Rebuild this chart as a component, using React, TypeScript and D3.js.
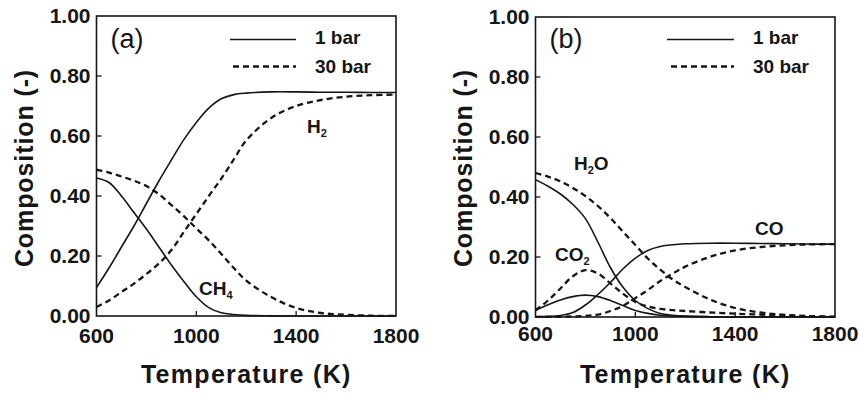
import React from "react";
import * as d3 from "d3";

// Temperatures (K) at which the curves were read
const temps = [600, 650, 700, 750, 800, 850, 900, 950, 1000, 1050, 1100, 1150, 1200, 1300, 1400, 1500, 1600, 1700, 1800];

// Panel (a)
const aH2_1bar = [0.095, 0.16, 0.23, 0.30, 0.375, 0.45, 0.52, 0.588, 0.645, 0.693, 0.724, 0.738, 0.743, 0.747, 0.747, 0.746, 0.746, 0.745, 0.745];
const aH2_30bar = [0.03, 0.052, 0.08, 0.108, 0.14, 0.175, 0.22, 0.28, 0.34, 0.40, 0.458, 0.522, 0.585, 0.66, 0.70, 0.72, 0.731, 0.736, 0.738];
const aCH4_1bar = [0.46, 0.445, 0.40, 0.345, 0.29, 0.23, 0.17, 0.115, 0.064, 0.028, 0.011, 0.005, 0.002, 0.0005, 0, 0, 0, 0, 0];
const aCH4_30bar = [0.488, 0.478, 0.465, 0.451, 0.433, 0.406, 0.37, 0.333, 0.292, 0.252, 0.207, 0.16, 0.118, 0.063, 0.027, 0.01, 0.004, 0.001, 0.0];

// Panel (b)
const bH2O_1bar = [0.458, 0.436, 0.41, 0.375, 0.328, 0.25, 0.165, 0.1, 0.055, 0.028, 0.012, 0.006, 0.003, 0.001, 0, 0, 0, 0, 0];
const bH2O_30bar = [0.48, 0.468, 0.452, 0.43, 0.403, 0.37, 0.33, 0.285, 0.24, 0.195, 0.158, 0.125, 0.1, 0.058, 0.03, 0.015, 0.007, 0.003, 0.001];
const bCO_1bar = [0.001, 0.002, 0.005, 0.015, 0.04, 0.075, 0.115, 0.16, 0.196, 0.222, 0.235, 0.241, 0.244, 0.246, 0.246, 0.245, 0.244, 0.243, 0.243];
const bCO_30bar = [0.0, 0.0005, 0.001, 0.002, 0.004, 0.008, 0.02, 0.037, 0.063, 0.09, 0.12, 0.145, 0.168, 0.201, 0.222, 0.233, 0.239, 0.242, 0.243];
const bCO2_1bar = [0.022, 0.041, 0.057, 0.068, 0.073, 0.068, 0.055, 0.038, 0.022, 0.012, 0.006, 0.003, 0.002, 0.001, 0, 0, 0, 0, 0];
const bCO2_30bar = [0.022, 0.055, 0.095, 0.136, 0.156, 0.145, 0.112, 0.078, 0.05, 0.035, 0.027, 0.023, 0.02, 0.015, 0.011, 0.008, 0.005, 0.002, 0.0];

const xTicks = [600, 1000, 1400, 1800];
const yTicks = [0, 0.2, 0.4, 0.6, 0.8, 1.0];
const legendLabels = ["1 bar", "30 bar"];

const INK = "#161616";
const FONT = "'Liberation Sans', Arial, Helvetica, sans-serif";

type Label = { main: string; sub?: string; tail?: string; x: number; y: number };

type PanelProps = {
  x0: number; x1: number; y0: number; y1: number;
  tag: string;
  solid: number[][];
  dashed: number[][];
  labels: Label[];
  xLabelY: number;
  legendSolid: [number, number];
  legendDashed: [number, number];
  legendTextX: number;
  ylabX: number;
};

function Panel(p: PanelProps) {
  const x = d3.scaleLinear().domain([600, 1800]).range([p.x0, p.x1]);
  const y = d3.scaleLinear().domain([0, 1]).range([p.y1, p.y0]);
  const line = d3
    .line<[number, number]>()
    .x((d) => x(d[0]))
    .y((d) => y(Math.max(0, d[1])))
    .curve(d3.curveCatmullRom.alpha(0.5));
  const mk = (vals: number[]) => line(temps.map((t, i) => [t, vals[i]] as [number, number])) || "";
  const cx = (p.x0 + p.x1) / 2;
  return (
    <g>
      <defs>
        <clipPath id={"clip" + p.tag}>
          <rect x={p.x0} y={p.y0} width={p.x1 - p.x0} height={p.y1 - p.y0 + 1} />
        </clipPath>
      </defs>
      <g clipPath={`url(#clip${p.tag})`}>
        {p.solid.map((s, i) => (
          <path key={"s" + i} d={mk(s)} fill="none" stroke={INK} strokeWidth={1.6} />
        ))}
        {p.dashed.map((s, i) => (
          <path key={"d" + i} d={mk(s)} fill="none" stroke={INK} strokeWidth={2.3} strokeDasharray="6,4" />
        ))}
      </g>
      {/* frame */}
      <rect x={p.x0} y={p.y0} width={p.x1 - p.x0} height={p.y1 - p.y0} fill="none" stroke={INK} strokeWidth={1.6} />
      {/* ticks */}
      {yTicks.filter((t) => t > 0 && t < 1).map((t) => (
        <line key={"yt" + t} x1={p.x0} x2={p.x0 + 5} y1={y(t)} y2={y(t)} stroke={INK} strokeWidth={1.3} />
      ))}
      {xTicks.filter((t) => t > 600 && t < 1800).map((t) => (
        <line key={"xt" + t} x1={x(t)} x2={x(t)} y1={p.y1} y2={p.y1 - 5} stroke={INK} strokeWidth={1.3} />
      ))}
      {/* tick labels */}
      {yTicks.map((t) => (
        <text key={"yl" + t} x={p.x0 - 6} y={y(t) + 7} textAnchor="end" fontSize={21} fontWeight="bold" fontFamily={FONT} fill={INK}>
          {t.toFixed(2)}
        </text>
      ))}
      {xTicks.map((t) => (
        <text key={"xl" + t} x={x(t)} y={p.xLabelY} textAnchor="middle" fontSize={21} fontWeight="bold" fontFamily={FONT} fill={INK}>
          {t}
        </text>
      ))}
      {/* axis titles */}
      <text x={cx} y={382.5} textAnchor="middle" fontSize={25} fontWeight="bold" fontFamily={FONT} fill={INK} letterSpacing={1.3}>
        Temperature (K)
      </text>
      <text
        transform={`translate(${p.ylabX},${168}) rotate(-90)`}
        textAnchor="middle"
        fontSize={25}
        fontWeight="bold"
        fontFamily={FONT}
        fill={INK}
        letterSpacing={0.9}
      >
        Composition (-)
      </text>
      {/* panel tag */}
      <text x={p.x0 + 14} y={48} fontSize={27} fontFamily={FONT} fill={INK}>
        ({p.tag})
      </text>
      {/* legend */}
      <line x1={p.legendSolid[0]} x2={p.legendSolid[1]} y1={39.5} y2={39.5} stroke={INK} strokeWidth={1.6} />
      <line x1={p.legendDashed[0]} x2={p.legendDashed[1]} y1={66.5} y2={66.5} stroke={INK} strokeWidth={2.3} strokeDasharray="6,4" />
      {legendLabels.map((l, i) => (
        <text key={l} x={p.legendTextX} y={44 + i * 29} fontSize={19} fontWeight="bold" fontFamily={FONT} fill={INK}>
          {l}
        </text>
      ))}
      {/* species labels */}
      {p.labels.map((l, i) => (
        <text key={"lab" + i} x={l.x} y={l.y} fontSize={19} fontWeight="bold" fontFamily={FONT} fill={INK}>
          {l.main}
          {l.sub ? (
            <tspan fontSize={11} dy={4}>
              {l.sub}
            </tspan>
          ) : null}
          {l.tail ? (
            <tspan dy={-4}>{l.tail}</tspan>
          ) : null}
        </text>
      ))}
    </g>
  );
}

export default function App() {
  return (
    <svg
      width={860}
      height={394}
      viewBox="0 0 860 394"
      style={{ position: "absolute", left: 0, top: 0, background: "#fff" }}
    >
      <rect x={0} y={0} width={860} height={394} fill="#fff" />
      <Panel
        x0={96.5}
        x1={396}
        y0={16}
        y1={316}
        tag="a"
        solid={[aH2_1bar, aCH4_1bar]}
        dashed={[aH2_30bar, aCH4_30bar]}
        labels={[
          { main: "H", sub: "2", x: 307, y: 133 },
          { main: "CH", sub: "4", x: 199, y: 295 },
        ]}
        xLabelY={343}
        legendSolid={[230, 296]}
        legendDashed={[233, 296]}
        legendTextX={315}
        ylabX={33}
      />
      <Panel
        x0={535.5}
        x1={835}
        y0={17}
        y1={317}
        tag="b"
        solid={[bH2O_1bar, bCO_1bar, bCO2_1bar]}
        dashed={[bH2O_30bar, bCO_30bar, bCO2_30bar]}
        labels={[
          { main: "H", sub: "2", tail: "O", x: 574, y: 170 },
          { main: "CO", sub: "2", x: 555, y: 261 },
          { main: "CO", x: 755, y: 235 },
        ]}
        xLabelY={341}
        legendSolid={[667, 734]}
        legendDashed={[671, 734]}
        legendTextX={753}
        ylabX={472}
      />
    </svg>
  );
}
